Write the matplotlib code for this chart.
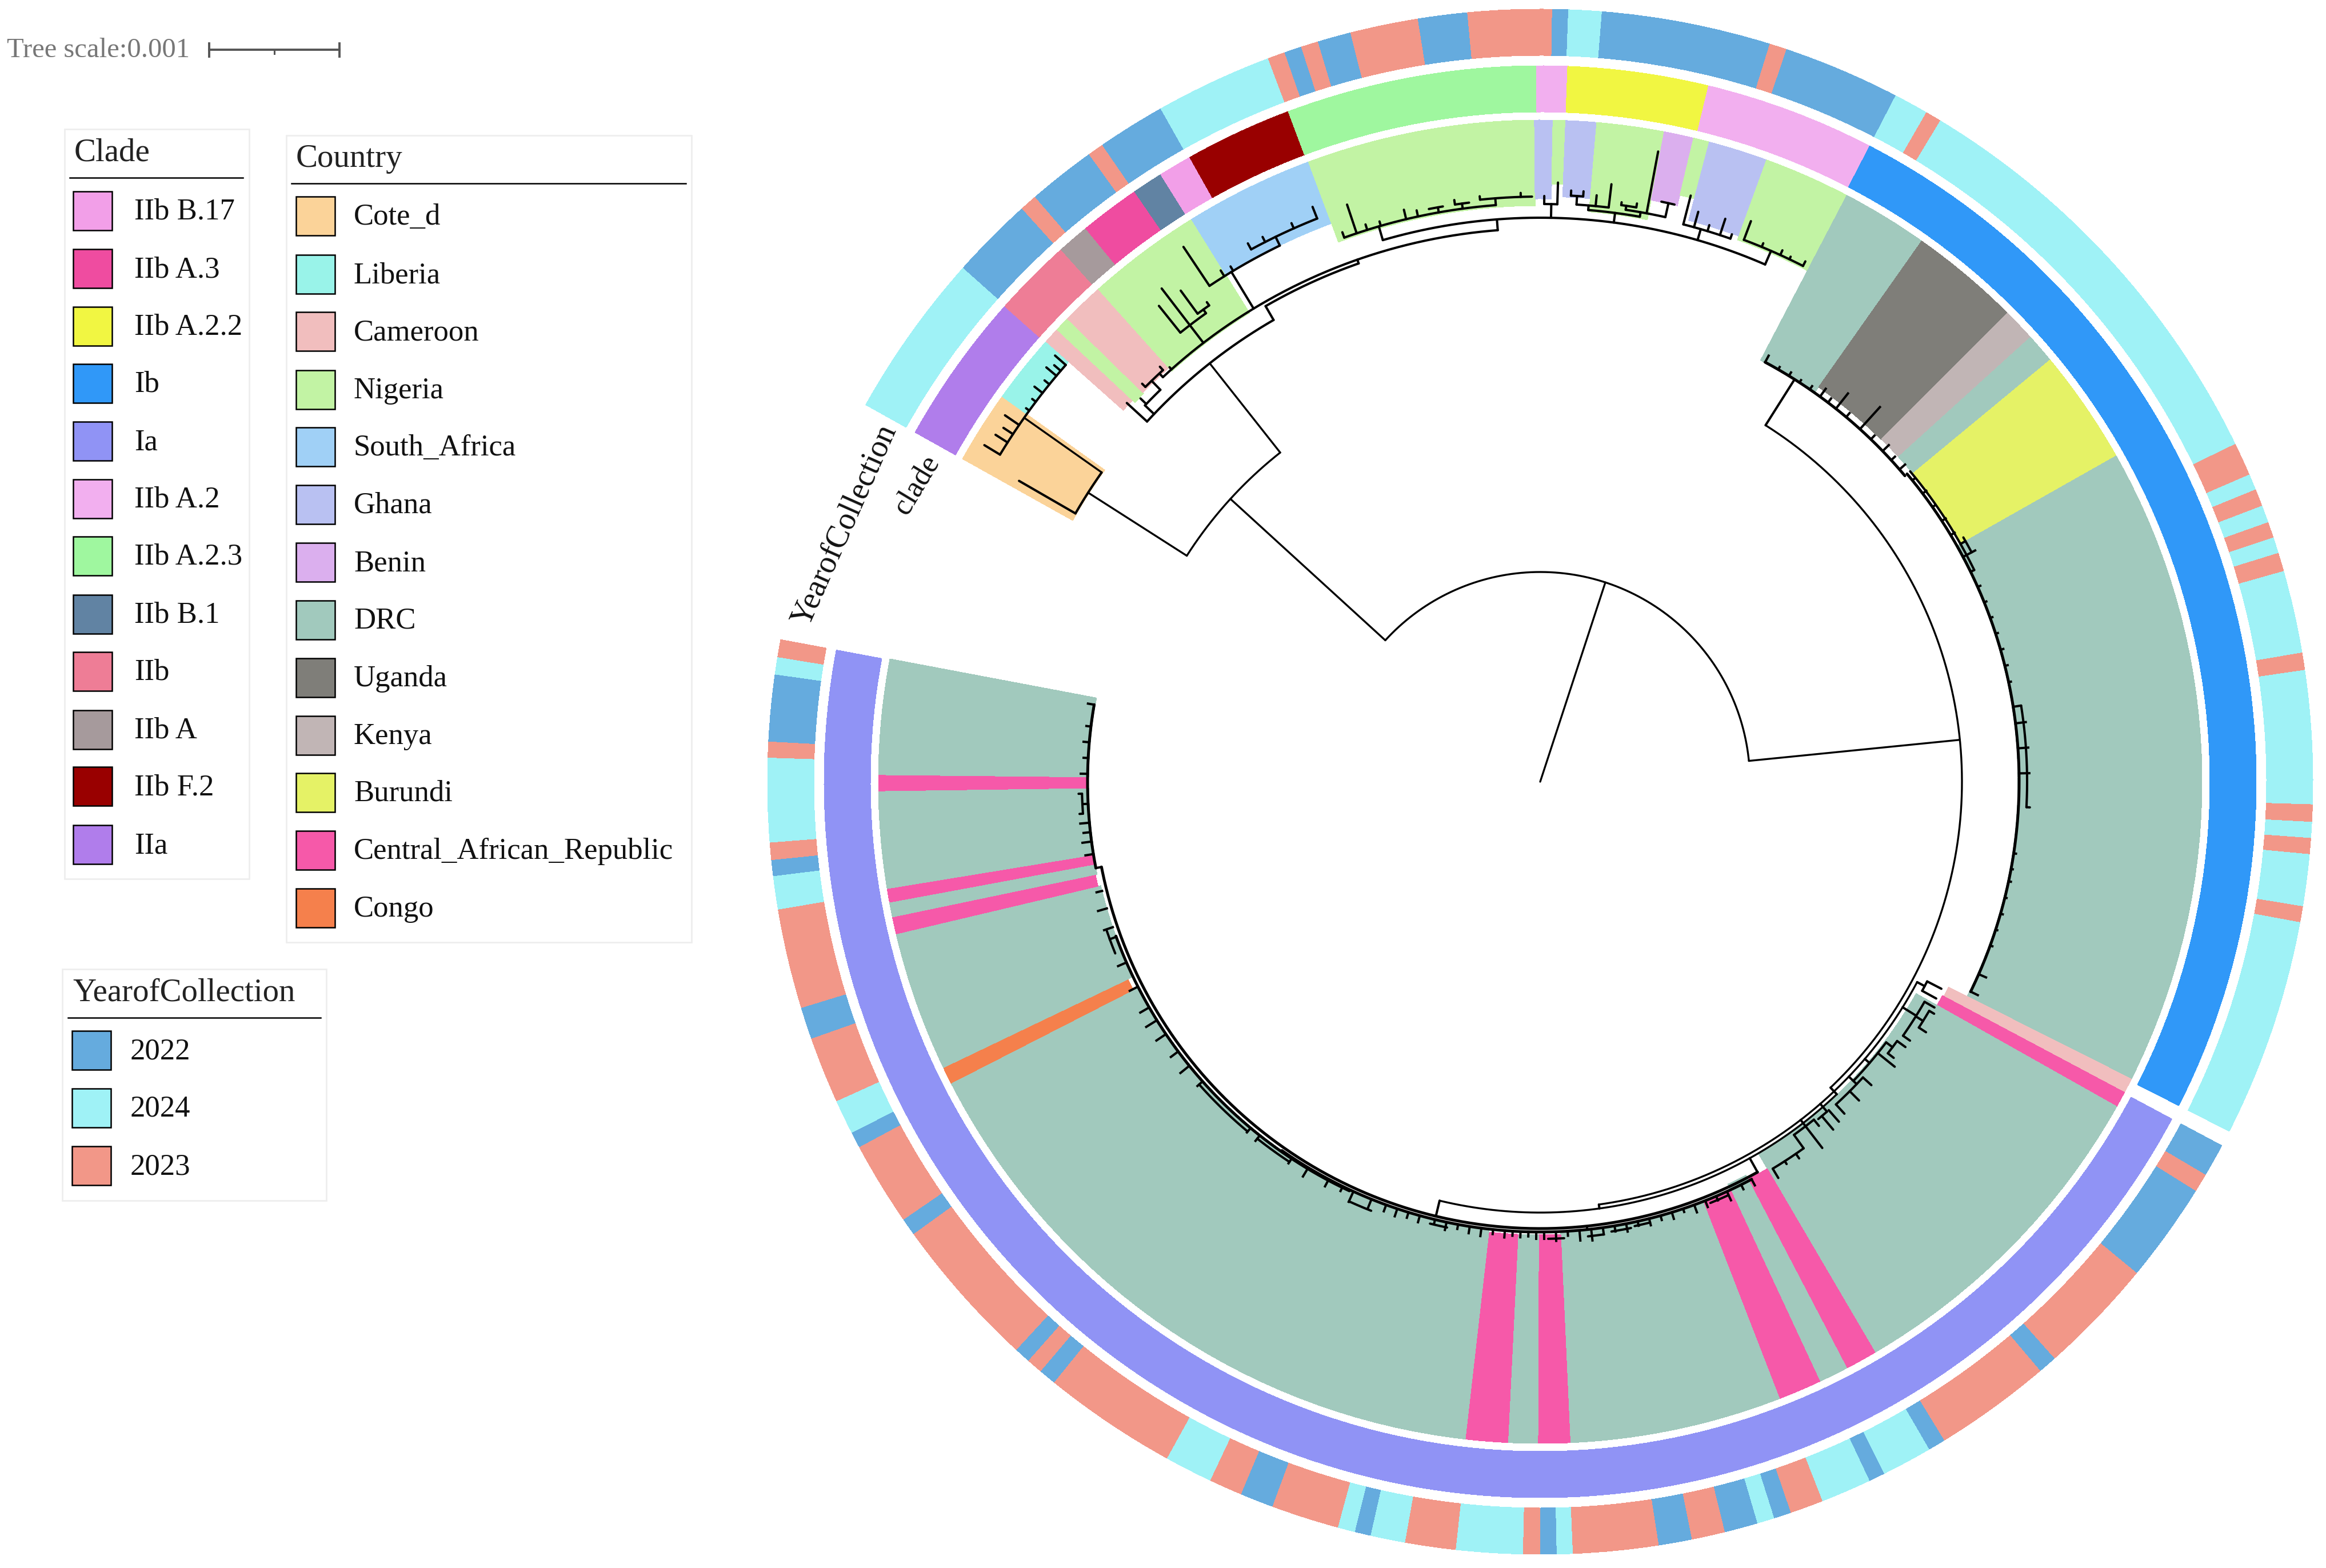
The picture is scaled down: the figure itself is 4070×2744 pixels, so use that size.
import numpy as np
import matplotlib
matplotlib.use("Agg")
import matplotlib.pyplot as plt
from matplotlib.patches import Rectangle

plt.rcParams['font.family'] = ['Liberation Serif', 'DejaVu Serif']

# colours
clade_names = ["IIb B.17", "IIb A.3", "IIb A.2.2", "Ib", "Ia", "IIb A.2", "IIb A.2.3", "IIb B.1", "IIb", "IIb A", "IIb F.2", "IIa"]
clade_colors = ["#F29FE8", "#EF4CA0", "#F1F642", "#3098F8", "#9093F5", "#F2AFEF", "#9FF79F", "#6183A3", "#EE7D96", "#A69A9C", "#990000", "#B07DEB"]
country_names = ["Cote_d", "Liberia", "Cameroon", "Nigeria", "South_Africa", "Ghana", "Benin", "DRC", "Uganda", "Kenya", "Burundi", "Central_African_Republic", "Congo"]
country_colors = ["#FBD399", "#99F3E9", "#F1BEBE", "#C2F3A4", "#A0D0F6", "#B9C1F2", "#DBAFEE", "#A1C9BD", "#7F7E79", "#C1B5B5", "#E5F266", "#F659A9", "#F5804C"]
year_names = ["2022", "2024", "2023"]
year_colors = ["#65ABDE", "#9FF2F6", "#F29788"]

# outer ring: edges in degrees clockwise from 12 o'clock, None is the gap
year_edges = [-60.8, -48.3, -42.1, -40.8, -35.7, -34.5, -29.4, -20.6, -19.3, -18.0, -16.7, -14.2, -9.1, -5.4, 0.9, 2.1, 4.6,
              17.3, 18.6, 27.4, 30.0, 31.2, 64.1, 66.6, 67.8, 69.1, 70.4, 71.6, 72.8, 74.2, 80.4, 81.7, 91.7, 93.0, 94.2, 95.4,
              99.3, 100.5, 116.9, 118.1, 120.6, 122.0, 129.5, 138.3, 139.7, 148.5, 149.8, 153.6, 154.8, 158.6, 161.1, 162.4,
              163.7, 166.2, 168.7, 171.2, 177.6, 178.8, 180.0, 181.3, 186.3, 190.1, 192.7, 193.9, 195.2, 200.3, 202.8, 205.3,
              208.9, 219.0, 220.3, 221.5, 222.7, 234.2, 235.5, 241.8, 243.0, 245.6, 250.6, 253.0, 260.5, 263.0, 264.2, 265.5,
              271.8, 273.0, 278.0, 279.3, 280.6]
year_values = ["2024", "2022", "2023", "2022", "2023", "2022", "2024", "2023", "2022", "2023", "2022", "2023", "2022", "2023", "2022", "2024",
               "2022", "2023", "2022", "2024", "2023", "2024", "2023", "2024", "2023", "2024", "2023", "2024", "2023", "2024", "2023", "2024",
               "2023", "2024", "2023", "2024", "2023", "2024", None, "2022", "2023", "2022", "2023", "2022", "2023", "2022", "2024", "2022",
               "2024", "2023", "2022", "2024", "2022", "2023", "2022", "2023", "2024", "2022", "2023", "2024", "2023", "2024", "2022", "2024",
               "2023", "2022", "2023", "2024", "2023", "2022", "2023", "2022", "2023", "2022", "2023", "2022", "2024", "2023", "2022", "2023",
               "2024", "2022", "2023", "2024", "2023", "2022", "2024", "2023"]

clade_edges = [-60.8, -48.4, -42.0, -39.4, -34.5, -32.0, -29.3, -20.6, -0.3, 2.2, 13.6, 27.4, 116.9, 118.1, 280.6]
clade_values = ["IIa", "IIb", "IIb A", "IIb A.3", "IIb B.1", "IIb B.17", "IIb F.2", "IIb A.2.3", "IIb A.2", "IIb A.2.2", "IIb A.2", "Ib", None, "Ia"]

# country ring: edges, country, where the range starts (leaf side)
country_edges = [-60.8, -54.4, -48.3, -46.9, -45.6, -41.9, -31.8, -20.5, -0.5, 1.1, 2.2, 4.9, 10.8, 13.4, 14.8, 20.0, 27.6, 35.2, 44.9, 47.8,
                 50.4, 60.5, 116.7, 118.0, 119.4, 149.6, 152.4, 155.0, 158.8, 177.4, 180.2, 182.8, 186.5, 242.9, 244.4, 256.7, 258.2, 259.5,
                 260.7, 269.2, 270.6, 280.7]
country_values = ["Cote_d", "Liberia", "Cameroon", "Nigeria", "Cameroon", "Nigeria", "South_Africa", "Nigeria", "Ghana", "Nigeria", "Ghana", "Nigeria",
                  "Benin", "Nigeria", "Ghana", "Nigeria", "DRC", "Uganda", "Kenya", "DRC", "Burundi", "DRC", "Cameroon", "Central_African_Republic",
                  "DRC", "Central_African_Republic", "DRC", "Central_African_Republic", "DRC", "Central_African_Republic", "DRC",
                  "Central_African_Republic", "DRC", "Congo", "DRC", "Central_African_Republic", "DRC", "Central_African_Republic", "DRC",
                  "Central_African_Republic", "DRC"]
country_inner = [937, 1105, 977, 971, 973, 965, 1043, 1008, 1020, 1046, 1024, 1001, 1036, 1055, 1016, 1009, 832, 845, 846, 846, 847, 836, 800, 797,
                 755, 785, 777, 789, 787, 793, 793, 793, 788, 800, 790, 795, 792, 793, 790, 793, 790]

# tree: arcs are (radius, from angle, to angle), radials are (angle, from radius, to radius)
backbone_arcs = [(367, -47.6, 84.3), (738, 32.3, 136.5), (734, -57.4, -38.3), (747, 118.0, 172.1), (754, 136.5, 193.5)]
tree_arcs = [(939, -60.0, -54.8), (1105, -58.8, -48.7),
             (933, -47.5, -30.0), (961, -30.0, -19.3), (968, -43.0, -4.4), (987, -16.2, 23.5), (1012, -19.8, -4.4),
             (1024, -5.9, -0.8), (1011, 0.4, 1.7), (1027, 3.0, 4.2), (1012, 3.6, 6.8), (1004, 4.8, 10.0), (1012, 8.5, 12.5),
             (1037, 11.8, 13.1), (1007, 14.4, 19.3), (1013, 20.6, 27.0), (1021, -11.0, -9.6), (1021, -8.4, -7.0), (1019, 8.0, 9.5),
             (1043, -33.7, -25.9), (1060, -28.5, -21.6), (1007, -38.7, -35.5), (1015, -36.2, -34.8), (955, -46.4, -44.1), (977, -45.0, -42.5),
             (845, 50.0, 64.0), (852, 81.0, 93.0),
             (762, 117.3, 118.7), (775, 119.8, 125.0), (790, 120.5, 123.0), (758, 127.0, 133.7), (772, 126.0, 128.0), (766, 132.5, 137.5),
             (765, 139.0, 140.5), (761, 141.0, 144.3), (790, 144.3, 149.0), (800, 172.0, 174.0), (797, 168.5, 171.0), (795, 166.0, 168.0),
             (795, 155.5, 158.0), (800, 177.0, 179.0), (807, 201.5, 204.5), (797, 191.8, 194.0), (802, 266.0, 268.5), (797, 213.4, 218.4),
             (798, 219.9, 228.4), (802, 248.0, 251.0), (855, 60.0, 62.0)]
ladder_arcs = [(833, 28.2, 50.0), (838, 50.0, 116.0), (782, 150.9, 259.0), (788, 152.0, 215.0), (790, 205.0, 250.0), (792, 259.0, 279.8)]
tree_radials = [(18.1, 0, 367), (84.3, 367, 738), (-47.6, 367, 734), (32.3, 738, 833), (-57.4, 734, 939), (-38.3, 734, 933),
                (-60.0, 939, 1053), (-54.8, 939, 1105), (-58.8, 1105, 1137), (-57.5, 1105, 1130), (-56.6, 1105, 1125), (-55.6, 1105, 1135),
                (-54.0, 1105, 1112), (-53.0, 1105, 1113), (-52.0, 1105, 1123), (-51.0, 1105, 1116), (-50.0, 1105, 1128), (-49.4, 1105, 1120),
                (-48.7, 1105, 1130), (-47.5, 933, 981), (-46.4, 933, 955), (-46.2, 955, 969), (-44.1, 955, 977), (-45.0, 977, 985),
                (-42.5, 977, 985), (-43.0, 968, 975), (-41.8, 968, 973), (-30.0, 933, 961), (-19.3, 961, 968), (-4.4, 968, 987),
                (-16.2, 987, 1012), (-19.8, 1012, 1022), (-18.5, 1012, 1065), (-17.4, 1012, 1022), (-16.0, 1012, 1020), (-13.4, 1012, 1029),
                (-12.2, 1012, 1023), (-10.1, 1012, 1021), (-7.7, 1012, 1021), (-8.4, 1021, 1029), (-4.4, 1012, 1024), (-5.9, 1024, 1030),
                (-1.9, 1024, 1031), (1.1, 987, 1011), (0.4, 1011, 1025), (1.7, 1011, 1049), (3.6, 1012, 1027), (3.0, 1027, 1036),
                (4.2, 1027, 1036), (5.5, 1012, 1031), (6.8, 1012, 1053), (4.8, 1004, 1012), (7.5, 987, 1004), (10.0, 1004, 1012),
                (10.6, 1012, 1122), (12.5, 1012, 1037), (8.5, 1012, 1019), (8.0, 1019, 1024), (9.5, 1019, 1026), (14.4, 1007, 1059),
                (16.2, 987, 1007), (15.5, 1007, 1035), (16.9, 1007, 1018), (18.2, 1007, 1037), (19.3, 1007, 1015), (23.5, 987, 1013),
                (20.6, 1013, 1048), (22.5, 1013, 1020), (24.5, 1013, 1022), (25.5, 1013, 1018), (27.0, 1013, 1022),
                (-33.7, 1043, 1125), (-25.9, 1043, 1060), (-32.0, 1043, 1055), (-31.0, 1043, 1052), (-28.5, 1060, 1072), (-27.0, 1060, 1070),
                (-24.0, 1060, 1070), (-21.6, 1060, 1082), (-38.7, 1007, 1067), (-36.2, 1015, 1065), (-34.8, 1015, 1022), (-35.5, 1007, 1015),
                (-37.5, 968, 1088), (-31.2, 968, 1043),
                (136.5, 738, 754), (118.0, 747, 762), (117.3, 762, 790), (118.7, 762, 790), (172.1, 747, 754), (193.5, 754, 782),
                (150.9, 754, 782), (174.0, 782, 788), (259.0, 782, 792), (81.0, 838, 852), (93.0, 852, 858), (60.5, 845, 855), (64.0, 838, 845),
                (121.9, 747, 775), (119.8, 775, 795), (125.0, 775, 790), (122.0, 775, 790), (120.5, 790, 800), (123.0, 790, 805),
                (130.5, 747, 758), (128.8, 758, 796), (127.0, 758, 772), (126.0, 772, 790), (128.0, 772, 785), (133.7, 747, 766),
                (132.5, 766, 786), (137.5, 766, 788), (135.0, 766, 789), (139.0, 747, 765), (138.7, 765, 792), (139.9, 765, 796),
                (142.4, 747, 809), (141.0, 761, 775), (144.3, 761, 790), (147.2, 790, 796), (149.0, 790, 809), (145.5, 790, 800),
                (267.2, 792, 802), (266.0, 802, 808), (268.5, 802, 808)]

# small leaf ticks along the ladders
ib_tick_angles = [28.2, 30.0, 31.5, 33.0, 34.5, 36.0, 37.2, 38.4, 40.0, 42.2, 44.0, 46.0, 47.5, 49.0, 51.0, 53.0, 55.0, 57.0, 59.0, 62.0, 66.0, 68.0,
                  70.0, 72.0, 74.0, 76.0, 78.0, 83.0, 86.0, 89.0, 98.6, 100.5, 102.0, 104.0, 106.0, 108.0, 110.0, 113.7, 116.0]
ib_tick_tips = [846, 838, 840, 838, 840, 850, 842, 867, 842, 885, 842, 848, 842, 846, 844, 846, 844, 846, 846, 862, 843, 842,
                842, 842, 843, 843, 842, 856, 856, 856, 842, 841, 842, 841, 842, 841, 842, 852, 852]
low_tick_angles = [152.0, 153.5, 155.5, 157.0, 158.5, 160.0, 161.5, 163.0, 164.5, 166.0, 167.5, 169.0, 170.5, 172.0, 173.5, 175.0, 176.5, 178.0, 179.5,
                   180.5, 181.5, 182.5, 183.5, 184.5, 186.0, 187.5, 189.0, 190.5, 192.0, 193.5, 195.5, 197.0, 198.5, 200.0, 202.0, 204.5, 206.0, 208.0, 211.0, 213.4,
                   218.4, 219.9, 228.4, 231.0, 233.3, 236.0, 238.1, 240.0, 243.0, 246.4, 249.9, 251.2, 253.7, 256.0, 260.8, 262.4, 263.6, 264.8, 271.0, 273.0, 275.0, 277.0, 279.8]
low_tick_tips = [800, 797, 805, 796, 800, 802, 794, 800, 796, 800, 796, 802, 798, 800, 808, 806, 796, 804, 800,
                 800, 796, 798, 796, 800, 796, 802, 800, 796, 802, 796, 800, 798, 802, 800, 806, 808, 797, 802, 806, 800,
                 802, 800, 802, 810, 806, 810, 812, 808, 806, 806, 802, 806, 806, 800, 806, 808, 804, 808, 804, 800, 802, 800, 803]

CX, CY, R_MAX = 2695, 1368, 1353
W, H = 4070, 2744


def draw_ring(ax, edges, values, lookup, r0, r1):
    for i, v in enumerate(values):
        if v is None:
            continue
        inner = r0[i] if np.ndim(r0) else r0
        ax.bar(np.radians(edges[i]) % (2 * np.pi), r1 - inner, width=np.radians(edges[i + 1] - edges[i]), bottom=inner,
               align="edge", color=lookup[v], linewidth=0, antialiased=False, zorder=1)


def draw_arcs(ax, arcs, lw):
    for r, a0, a1 in arcs:
        t = np.radians(np.linspace(a0, a1, 200))
        ax.plot(t, np.full(t.shape, r), color="black", lw=lw, solid_capstyle="round", zorder=3)


fig = plt.figure(figsize=(W / 100, H / 100), dpi=100, facecolor="white")
ax = fig.add_axes([(CX - R_MAX) / W, (H - CY - R_MAX) / H, 2 * R_MAX / W, 2 * R_MAX / H], projection="polar")
ax.set_theta_zero_location("N")
ax.set_theta_direction(-1)

draw_ring(ax, year_edges, year_values, dict(zip(year_names, year_colors)), 1271, 1352)
draw_ring(ax, clade_edges, clade_values, dict(zip(clade_names, clade_colors)), 1172, 1253)
draw_ring(ax, country_edges, country_values, dict(zip(country_names, country_colors)), country_inner, 1158)

# tree
draw_arcs(ax, backbone_arcs, 2.4)
draw_arcs(ax, tree_arcs, 2.9)
draw_arcs(ax, ladder_arcs, 3.6)
for a, r0, r1 in tree_radials:
    lw = 2.4 if r1 - r0 > 150 else 2.9
    ax.plot(np.radians([a, a]), [r0, r1], color="black", lw=lw, solid_capstyle="round", zorder=3)
for a, tip in zip(ib_tick_angles, ib_tick_tips):
    base = 833 if a < 50 else 838
    ax.plot(np.radians([a, a]), [base, tip], color="black", lw=2.9, zorder=3)
for a, tip in zip(low_tick_angles, low_tick_tips):
    base = 792 if a > 259 else (790 if a > 215 else 788)
    ax.plot(np.radians([a, a]), [base, tip], color="black", lw=2.9, zorder=3)

ax.set_xlim(0, 2 * np.pi)
ax.set_ylim(0, R_MAX)
ax.axis("off")

# overlay in pixel coordinates for legends and labels
ov = fig.add_axes([0, 0, 1, 1])
ov.set_xlim(0, W)
ov.set_ylim(H, 0)
ov.axis("off")
ov.patch.set_alpha(0)


def legend_box(x0, y0, x1, y1, title, names, colors, sw_x, sw_tops, lab_x, title_x, title_base, rule_y, rule_x0, rule_x1):
    ov.add_patch(Rectangle((x0, y0), x1 - x0, y1 - y0, fc="white", ec="#EEEEEE", lw=2))
    ov.text(title_x, title_base, title, fontsize=41, color="#222222", va="baseline")
    ov.plot([rule_x0, rule_x1], [rule_y, rule_y], color="black", lw=1.8)
    for name, col, top in zip(names, colors, sw_tops):
        ov.add_patch(Rectangle((sw_x, top), 68, 68, fc=col, ec="black", lw=1.8))
        ov.text(lab_x, top + 49, name, fontsize=38, color="#111111", va="baseline")


legend_box(113, 226, 436, 1538, "Clade", clade_names, clade_colors, 128,
           [335, 436, 537, 637, 738, 839, 939, 1041, 1141, 1243, 1342, 1444], 235, 130, 282, 311, 122, 425)
legend_box(501, 237, 1210, 1649, "Country", country_names, country_colors, 518,
           [344, 446, 546, 648, 748, 849, 950, 1051, 1152, 1253, 1353, 1454, 1555], 619, 518, 292, 321, 510, 1200)
legend_box(109, 1696, 571, 2101, "YearofCollection", year_names, year_colors, 126,
           [1804, 1905, 2006], 228, 127, 1752, 1781, 119, 561)

# tree scale
ov.text(12, 100, "Tree scale:0.001", fontsize=35, color="#777777", va="baseline")
ov.plot([366, 594], [87, 87], color="#555555", lw=2.8)
ov.plot([366, 366], [76, 99], color="#555555", lw=2.8)
ov.plot([594, 594], [76, 99], color="#555555", lw=2.8)
ov.plot([480, 480], [87, 94], color="#555555", lw=2.2)

# ring labels
ov.text(1604, 848, "clade", fontsize=38, rotation=59, ha="center", va="center", rotation_mode="anchor", color="#111111")
ov.text(1478, 920, "YearofCollection", fontsize=40, rotation=66, ha="center", va="center", rotation_mode="anchor", color="#111111")

fig.savefig("out.png", dpi=100, facecolor="white")
